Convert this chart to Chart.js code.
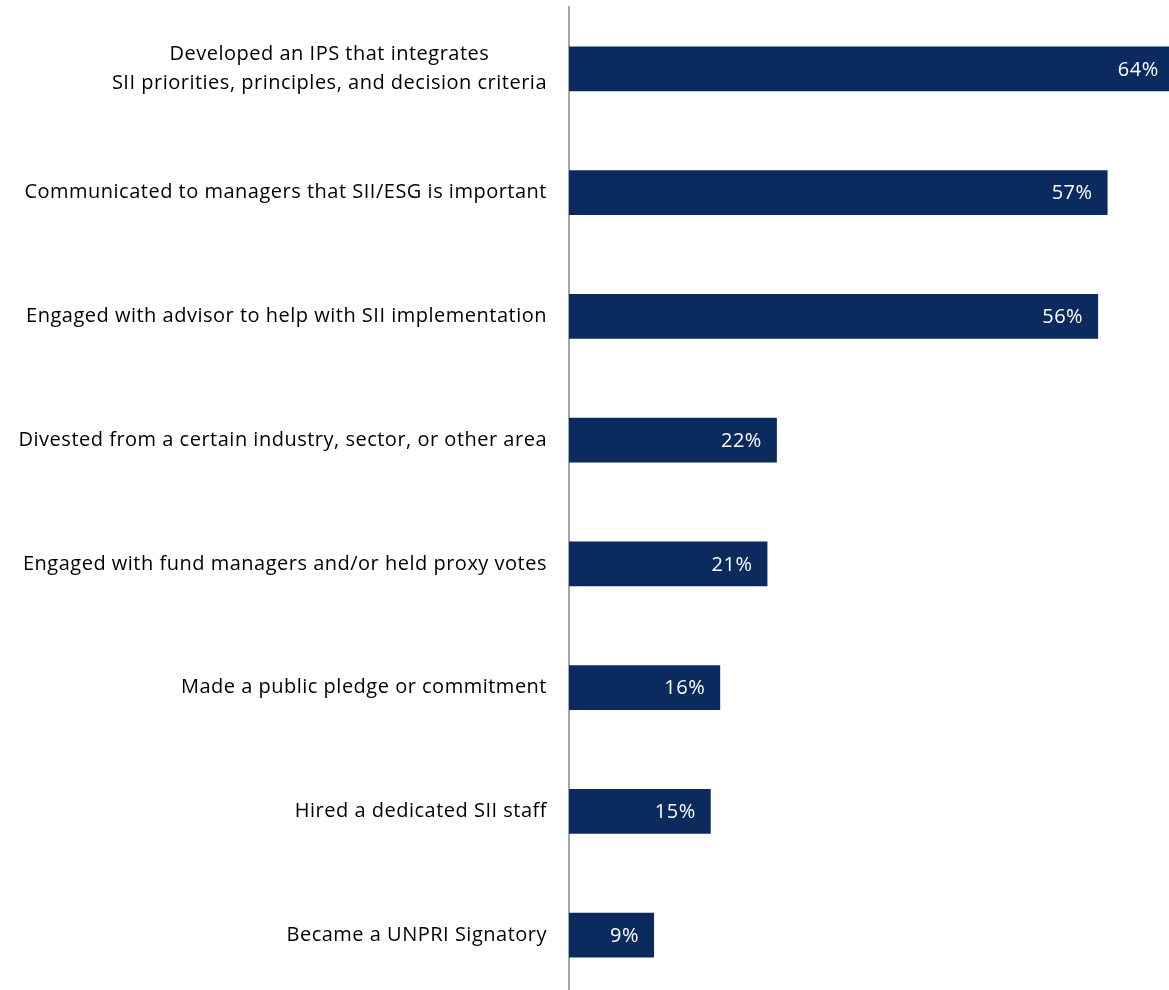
<!DOCTYPE html>
<html>
<head>
<meta charset="utf-8">
<style>
  html, body { margin: 0; padding: 0; background: #ffffff; overflow: hidden; }
  #wrap { width: 1169px; height: 1000px; position: relative; }
</style>
<script src="https://cdn.jsdelivr.net/npm/chart.js@4.4.1/dist/chart.umd.min.js"></script>
</head>
<body>
<div id="wrap"><canvas id="c"></canvas></div>
<script>
// Actions taken, share of respondents (%)
const categories = [
  ['Developed an IPS that integrates', 'SII priorities, principles, and decision criteria'],
  'Communicated to managers that SII/ESG is important',
  'Engaged with advisor to help with SII implementation',
  'Divested from a certain industry, sector, or other area',
  'Engaged with fund managers and/or held proxy votes',
  'Made a public pledge or commitment',
  'Hired a dedicated SII staff',
  'Became a UNPRI Signatory'
];
const shares = [64, 57, 56, 22, 21, 16, 15, 9];
const valueLabels = shares.map(v => v + '%');

const FONT = '"Open Sans", Lato, sans-serif';
const BAR_COLOR = '#0b2b5e';

// Category names drawn left of the plot edge, multi-line names centred on their widest line
const categoryLabels = {
  id: 'categoryLabels',
  afterDraw(chart) {
    const ctx = chart.ctx;
    const yScale = chart.scales.y;
    const right = chart.chartArea.left - 22;
    const lineH = 29;
    ctx.save();
    ctx.font = '20px ' + FONT;
    ctx.letterSpacing = '0.5px';
    ctx.fillStyle = '#000000';
    ctx.textBaseline = 'middle';
    categories.forEach((cat, i) => {
      const lines = Array.isArray(cat) ? cat : [cat];
      const widths = lines.map(l => ctx.measureText(l).width);
      const maxW = Math.max(...widths);
      const cy = yScale.getPixelForValue(i);
      lines.forEach((line, j) => {
        const y = cy + (j - (lines.length - 1) / 2) * lineH;
        ctx.textAlign = 'center';
        ctx.fillText(line, right - maxW / 2, y);
      });
    });
    ctx.restore();
  }
};

// Percent labels inside the end of each bar
const barValueLabels = {
  id: 'barValueLabels',
  afterDatasetsDraw(chart) {
    const ctx = chart.ctx;
    const meta = chart.getDatasetMeta(0);
    ctx.save();
    ctx.font = '20px ' + FONT;
    ctx.letterSpacing = '0.5px';
    ctx.fillStyle = '#ffffff';
    ctx.textAlign = 'right';
    ctx.textBaseline = 'middle';
    meta.data.forEach((bar, i) => {
      ctx.fillText(valueLabels[i], bar.x - 15, bar.y + 1);
    });
    ctx.restore();
  }
};

new Chart(document.getElementById('c'), {
  type: 'bar',
  data: {
    labels: categories,
    datasets: [{
      data: shares,
      backgroundColor: BAR_COLOR,
      borderWidth: 0,
      categoryPercentage: 1,
      barPercentage: 0.36
    }]
  },
  options: {
    indexAxis: 'y',
    responsive: true,
    maintainAspectRatio: false,
    animation: false,
    layout: { padding: { top: 7, bottom: 3, left: 0, right: 0 } },
    plugins: {
      legend: { display: false },
      tooltip: { enabled: false }
    },
    scales: {
      x: {
        display: false,
        min: 0,
        max: 63.5
      },
      y: {
        grid: { display: false },
        border: { display: true, color: '#a6a6a6', width: 2 },
        ticks: { display: false },
        afterFit(scale) { scale.width = 569; }
      }
    }
  },
  plugins: [categoryLabels, barValueLabels]
});
</script>
</body>
</html>
